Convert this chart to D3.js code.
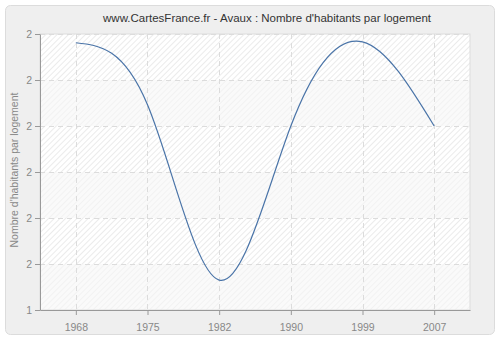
<!DOCTYPE html>
<html>
<head>
<meta charset="utf-8">
<script src="https://d3js.org/d3.v7.min.js"></script>
<style>
  body { margin: 0; background: #fff; }
  text { font-family: "Liberation Sans", Arial, sans-serif; }
</style>
</head>
<body>
<div class="chart"></div>
<script>
// data
var years = ["1968", "1975", "1982", "1990", "1999", "2007"];
var habitants = [1.981, 1.846, 1.465, 1.80, 1.983, 1.80];
var yTicks = [1.4, 1.5, 1.6, 1.7, 1.8, 1.9, 2.0];
var yTickLabels = ["1", "2", "2", "2", "2", "2", "2"];

var svgWidth = 500;
var svgHeight = 340;

var margin = { top: 34, right: 30, bottom: 30, left: 40 };
var width = svgWidth - margin.left - margin.right;
var height = svgHeight - margin.top - margin.bottom;

var svg = d3.select(".chart")
  .append("svg")
  .attr("width", svgWidth)
  .attr("height", svgHeight);

// hatch patterns for the plot bands
var defs = svg.append("defs");
var hatch = defs.append("pattern")
  .attr("id", "hatch")
  .attr("patternUnits", "userSpaceOnUse")
  .attr("width", 4)
  .attr("height", 4)
  .attr("patternTransform", "rotate(45)");
hatch.append("rect").attr("width", 4).attr("height", 4).attr("fill", "#ffffff");
hatch.append("line")
  .attr("x1", 0).attr("y1", 0).attr("x2", 0).attr("y2", 4)
  .attr("stroke", "#dedede").attr("stroke-width", 1.2);

var hatchLight = defs.append("pattern")
  .attr("id", "hatchLight")
  .attr("patternUnits", "userSpaceOnUse")
  .attr("width", 4)
  .attr("height", 4)
  .attr("patternTransform", "rotate(45)");
hatchLight.append("rect").attr("width", 4).attr("height", 4).attr("fill", "#fafafa");
hatchLight.append("line")
  .attr("x1", 0).attr("y1", 0).attr("x2", 0).attr("y2", 4)
  .attr("stroke", "#eeeeee").attr("stroke-width", 1.2);

// outer box
svg.append("rect")
  .attr("x", 5.5).attr("y", 5.5)
  .attr("width", 489).attr("height", 329)
  .attr("rx", 5)
  .attr("fill", "#efefef")
  .attr("stroke", "#dcdcdc");

var chartGroup = svg.append("g")
  .attr("transform", `translate(${margin.left}, ${margin.top})`);

var x = d3.scalePoint()
  .domain(years)
  .range([0, width])
  .padding(0.5);

var y = d3.scaleLinear()
  .domain([1.4, 2.0])
  .range([height, 0]);

// alternating bands
var bands = d3.pairs(yTicks);
chartGroup.selectAll("rect.band")
  .data(bands)
  .enter()
  .append("rect")
  .attr("class", "band")
  .attr("x", 0)
  .attr("y", d => y(d[1]))
  .attr("width", width)
  .attr("height", d => y(d[0]) - y(d[1]))
  .attr("fill", (d, i) => i % 2 === 0 ? "url(#hatchLight)" : "url(#hatch)");

// right / top border of the plot
chartGroup.append("rect")
  .attr("x", 0).attr("y", 0)
  .attr("width", width).attr("height", height)
  .attr("fill", "none")
  .attr("stroke", "#dddddd");

// grid lines
chartGroup.selectAll("line.hgrid")
  .data(yTicks.slice(1))
  .enter()
  .append("line")
  .attr("x1", 0).attr("x2", width)
  .attr("y1", d => Math.round(y(d)) + 0.5)
  .attr("y2", d => Math.round(y(d)) + 0.5)
  .attr("stroke", "#dcdcdc")
  .attr("stroke-dasharray", "5,4");

chartGroup.selectAll("line.vgrid")
  .data(years)
  .enter()
  .append("line")
  .attr("x1", d => Math.round(x(d)) + 0.5)
  .attr("x2", d => Math.round(x(d)) + 0.5)
  .attr("y1", 0).attr("y2", height)
  .attr("stroke", "#dcdcdc")
  .attr("stroke-dasharray", "5,4");

// axes
var bottomAxis = d3.axisBottom(x).tickSize(5).tickSizeOuter(0);
var leftAxis = d3.axisLeft(y)
  .tickValues(yTicks)
  .tickFormat((d, i) => yTickLabels[i])
  .tickSize(5)
  .tickSizeOuter(0);

var xAxisG = chartGroup.append("g")
  .attr("transform", `translate(0, ${height})`)
  .call(bottomAxis);

var yAxisG = chartGroup.append("g")
  .call(leftAxis);

[xAxisG, yAxisG].forEach(function(g) {
  g.select(".domain").attr("stroke", "#999999");
  g.selectAll(".tick line").attr("stroke", "#999999");
  g.selectAll(".tick text")
    .attr("fill", "#888888")
    .style("font-size", "10.5px")
    .style("font-family", "Liberation Sans, Arial, sans-serif");
});
xAxisG.selectAll(".tick text").attr("dy", "1.2em");
yAxisG.selectAll(".tick text").attr("x", -8);

// the line
var line = d3.line()
  .x((d, i) => x(years[i]))
  .y(d => y(d))
  .curve(d3.curveNatural);

chartGroup.append("path")
  .datum(habitants)
  .attr("d", line)
  .attr("fill", "none")
  .attr("stroke", "#4a74a8")
  .attr("stroke-width", 1.2);

// title
svg.append("text")
  .attr("x", 267)
  .attr("y", 22)
  .attr("text-anchor", "middle")
  .attr("fill", "#333333")
  .style("font-size", "11.5px")
  .text("www.CartesFrance.fr - Avaux : Nombre d'habitants par logement");

// y axis label
svg.append("text")
  .attr("transform", "rotate(-90)")
  .attr("x", -170)
  .attr("y", 18)
  .attr("text-anchor", "middle")
  .attr("fill", "#888888")
  .style("font-size", "10.5px")
  .text("Nombre d'habitants par logement");
</script>
</body>
</html>
